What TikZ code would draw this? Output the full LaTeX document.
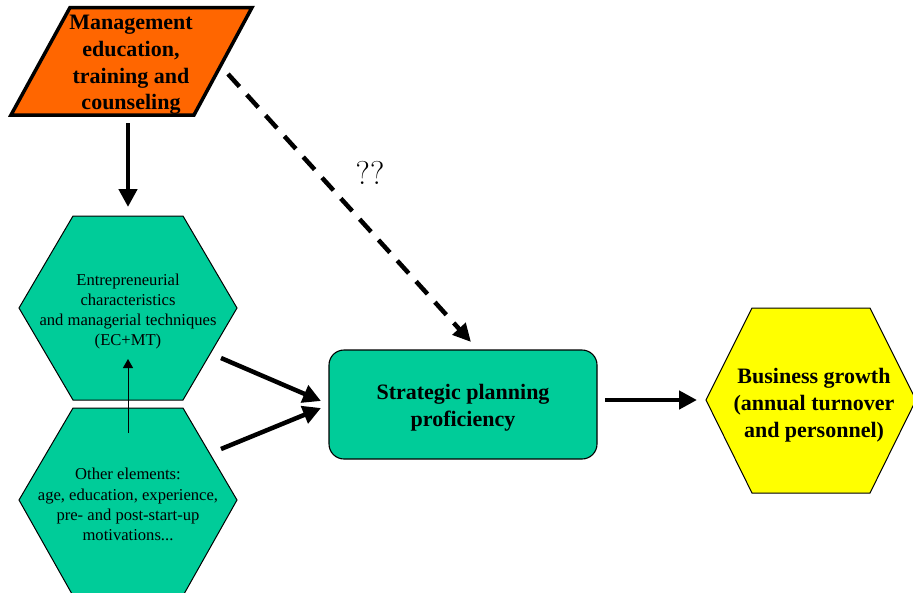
\documentclass[tikz,border=0pt]{standalone}
\usepackage{fontspec}
\setmainfont{Liberation Serif}
\usetikzlibrary{arrows.meta,calc,backgrounds}
\definecolor{orangeA}{RGB}{255,102,0}
\definecolor{greenA}{RGB}{0,204,153}
\definecolor{yellowA}{RGB}{255,255,0}
\begin{document}
\begin{tikzpicture}[x=1pt,y=-1pt,
  bigtext/.style={font=\fontsize{22}{26.8}\selectfont\bfseries, align=center, inner sep=0pt},
  smalltext/.style={font=\fontsize{16.6}{20.2}\selectfont, align=center, inner sep=0pt},
  hexshape/.style={draw=black, line width=1pt, fill=greenA, line join=miter},
  thickarrow/.style={line width=4.5pt, -{Triangle[length=18pt,width=18pt]}},
  dasharrow/.style={line width=4.5pt, dash pattern=on 17pt off 11pt, -{Triangle[length=18pt,width=17pt]}},
  thinarrow/.style={line width=1pt, -{Triangle[length=9pt,width=10pt]}}
]
\useasboundingbox (0,0) rectangle (913,592);

% shapes
\filldraw[fill=orangeA, draw=black, line width=3.5pt, line join=miter]
  (70,7.5) -- (252,7.5) -- (194,115) -- (11,115) -- cycle;
\path[hexshape] (19,308) -- (73,216) -- (183,216) -- (237,308) -- (183,400) -- (73,400) -- cycle;
\path[hexshape] (19,500) -- (73,408) -- (183,408) -- (237,500) -- (184,594) -- (72,594) -- cycle;
\path[hexshape, fill=yellowA] (706,400) -- (752,308) -- (870,308) -- (916,400) -- (870,493) -- (752,493) -- cycle;

% nodes
\node[bigtext] (mgmt) at (131,65) {Management\\education,\\training and\\counseling};
\node[smalltext] (ec) at (128,311.5) {Entrepreneurial\\characteristics\\and managerial techniques\\(EC+MT)};
\node[smalltext] (other) at (128,504.5) {Other elements:\\age, education, experience,\\pre- and post-start-up\\motivations...};
\node[bigtext, draw=black, line width=1.1pt, fill=greenA, rounded corners=15pt,
      minimum width=268pt, minimum height=109pt, text depth=0pt] (spp) at (463,404.5) {};
\node[bigtext] (spptext) at (463,408) {Strategic planning\\proficiency};
\node[bigtext] (bg) at (814,405.5) {Business growth\\(annual turnover\\and personnel)};
\node[font=\fontsize{33}{35}\fontfamily{lmr}\selectfont, inner sep=0pt] (qq) at (370,173) {??};

% connector end points
\coordinate (mgmtS) at (128,123);
\coordinate (ecN) at (128,207);
\coordinate (otherN) at (128,433);
\coordinate (ecS) at (128,359);
\coordinate (ecE) at (221,358);
\coordinate (otherE) at (221,449);
\coordinate (sppW1) at (321,401);
\coordinate (sppW2) at (321,408);
\coordinate (mgmtE) at (228,74);
\coordinate (sppN) at (471,342);
\coordinate (sppE) at (605,400);
\coordinate (bgW) at (697,400);

% connectors
\draw[thickarrow] (mgmtS) -- (ecN);
\draw[thinarrow] (otherN) -- (ecS);
\draw[thickarrow] (ecE) -- (sppW1);
\draw[thickarrow] (otherE) -- (sppW2);
\draw[dasharrow] (mgmtE) -- (sppN);
\draw[thickarrow] (sppE) -- (bgW);
\end{tikzpicture}
\end{document}
